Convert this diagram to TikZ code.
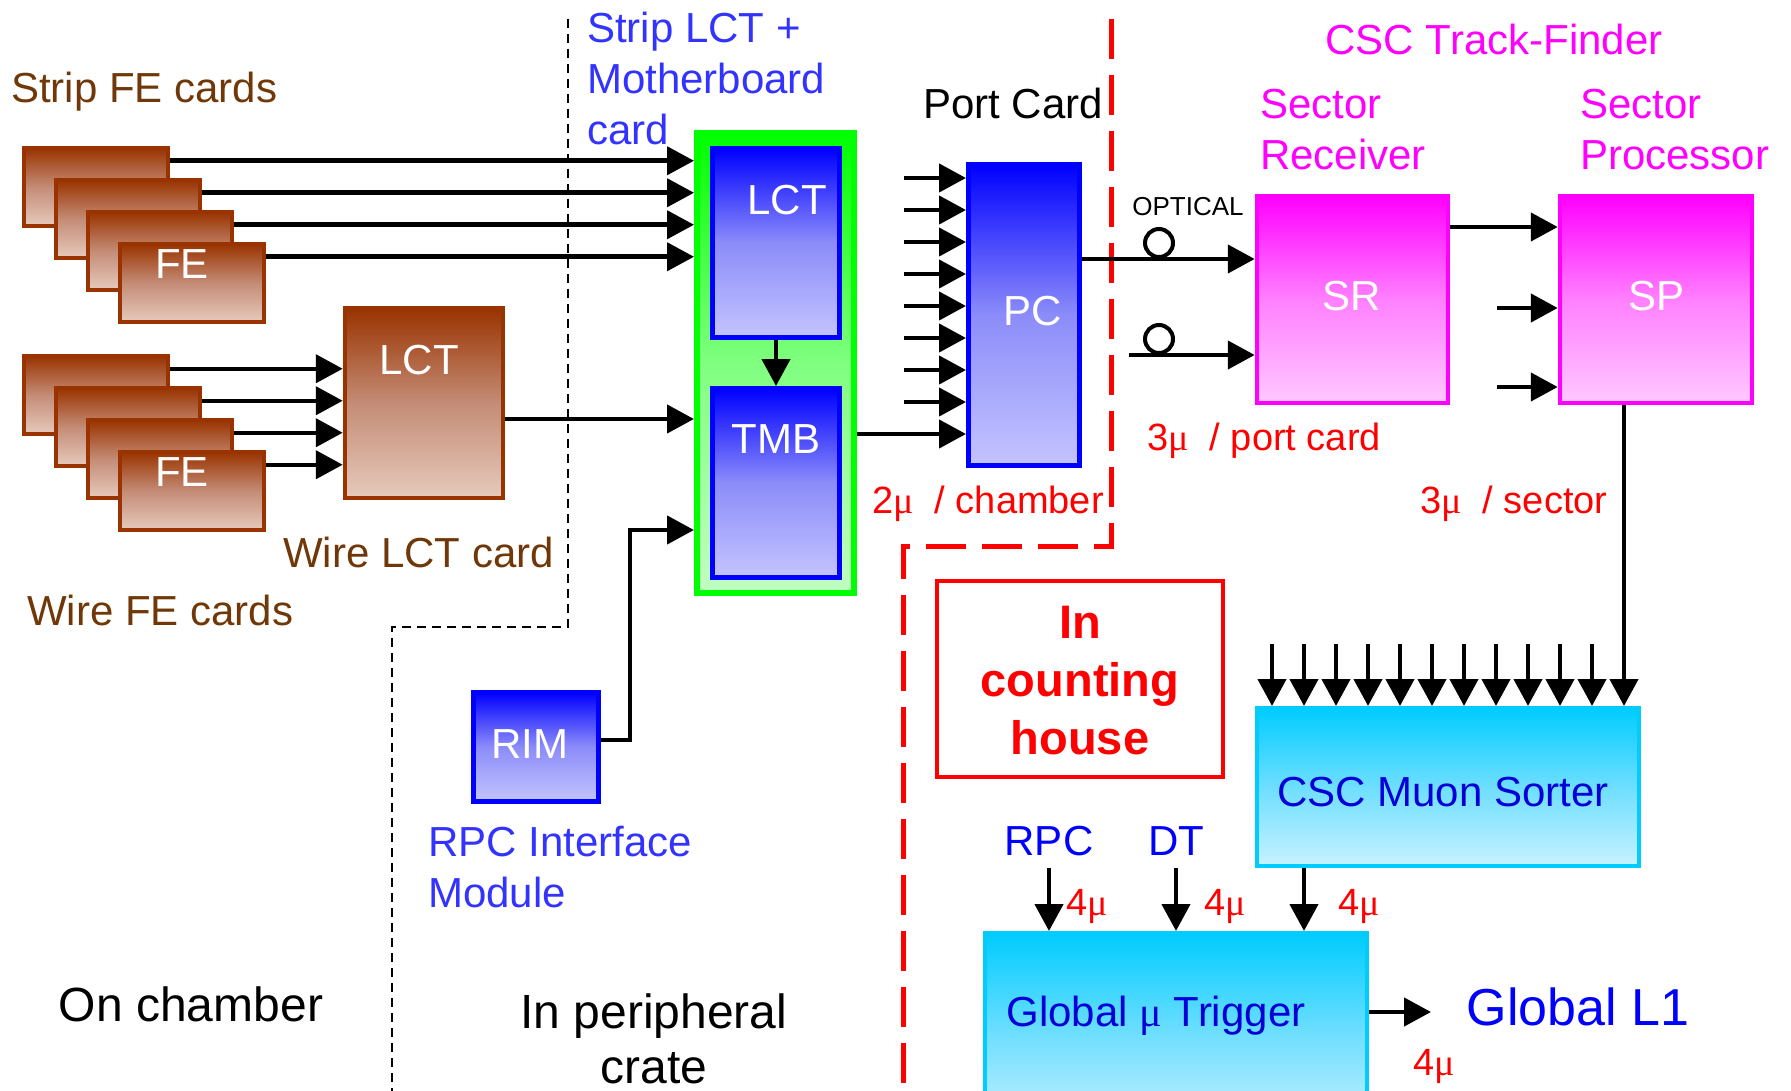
\documentclass[tikz,border=0pt]{standalone}
\usepackage{fontspec}
\setmainfont{Liberation Sans}
\newfontfamily\greekserif{Liberation Serif}
\newcommand{\muu}{{\greekserif μ}}
\usetikzlibrary{arrows.meta,calc}

\definecolor{febrown}{RGB}{153,51,0}
\definecolor{femid}{RGB}{196,140,118}
\definecolor{felight}{RGB}{230,202,188}
\definecolor{txtbrown}{RGB}{112,56,8}
\definecolor{lblue}{RGB}{51,51,255}
\definecolor{boxblue}{RGB}{0,0,255}
\definecolor{midblue}{RGB}{140,140,250}
\definecolor{lavender}{RGB}{196,196,255}
\definecolor{mag}{RGB}{255,0,255}
\definecolor{pinkmid}{RGB}{255,128,255}
\definecolor{pinklight}{RGB}{255,200,255}
\definecolor{cyanb}{RGB}{0,204,255}
\definecolor{cyanmid}{RGB}{110,222,255}
\definecolor{cyanlight}{RGB}{200,242,255}
\definecolor{grn}{RGB}{0,255,0}
\definecolor{grnmid}{RGB}{128,255,128}
\definecolor{grnlight}{RGB}{192,255,192}
\definecolor{darkblue}{RGB}{0,0,215}

\tikzset{
  box/.style={rectangle, inner sep=0pt, draw},
  fecard/.style={box, draw=febrown, line width=4.5pt, top color=febrown, bottom color=felight, middle color=femid, minimum width=144, minimum height=78},
  bluebox/.style={box, draw=boxblue, line width=5pt, top color=boxblue, bottom color=lavender, middle color=midblue},
  magbox/.style={box, draw=mag, line width=4.5pt, top color=mag, bottom color=pinklight, middle color=pinkmid},
  cyanbox/.style={box, draw=cyanb, line width=4pt, top color=cyanb, bottom color=cyanlight, middle color=cyanmid},
  grnbox/.style={box, draw=grn, line width=6pt, top color=grn, bottom color=grnlight, middle color=grnmid},
  lbl/.style={text=white, inner sep=0pt, font=\fontsize{42}{50}\selectfont},
  arr/.style={line width=4.5pt, -{Triangle[length=27pt,width=28pt]}},
  txt/.style={inner sep=0pt, anchor=west, font=\fontsize{42}{51}\selectfont, text height=30pt, text depth=0pt},
  mtxt/.style={inner sep=0pt, anchor=north west, align=left, font=\fontsize{42}{51}\selectfont},
  redtxt/.style={inner sep=0pt, anchor=west, text=red, font=\fontsize{38}{46}\selectfont, text height=27pt, text depth=0pt}
}

\begin{document}
\begin{tikzpicture}[x=1pt,y=-1pt]
\clip (0,0) rectangle (1791,1091);
\fill[white] (0,0) rectangle (1791,1091);

% region boundaries
\draw[line width=1.8pt, dash pattern=on 9pt off 6pt] (568,19) -- (568,627) -- (392,627) -- (392,1091);
\draw[red, line width=5pt, dash pattern=on 40pt off 16pt] (1111,19) -- (1111,546) -- (903,546) -- (903,1091);

% strip and wire front-end cards
\foreach \i/\cx/\cy in {1/96/187, 2/128/219, 3/160/251, 4/192/283}
  \node[fecard] (s\i) at (\cx,\cy) {};
\node[lbl] (sfe) at (182,264) {FE};
\foreach \i/\cx/\cy in {1/96/395, 2/128/427, 3/160/459, 4/192/491}
  \node[fecard] (w\i) at (\cx,\cy) {};
\node[lbl] (wfe) at (182,472) {FE};

% wire LCT card
\node[fecard, minimum width=158, minimum height=190] (wlct) at (424,403) {};
\node[lbl] (wlctl) at (419,360) {LCT};

% strip LCT + motherboard
\node[grnbox, minimum width=157, minimum height=460] (mb) at (775.5,363) {};
\node[bluebox, minimum width=127, minimum height=189] (slct) at (776,243) {};
\node[lbl] (slctl) at (787,200) {LCT};
\node[bluebox, minimum width=127, minimum height=189] (tmb) at (776,483) {};
\node[lbl] (tmbl) at (776,439) {TMB};

% RPC interface module
\node[bluebox, minimum width=125, minimum height=109] (rim) at (536,747) {};
\node[lbl] (riml) at (530,744) {RIM};

% port card
\node[bluebox, minimum width=111, minimum height=301] (pc) at (1024,315) {};
\node[lbl] (pcl) at (1033,311) {PC};

% track-finder
\node[magbox, minimum width=191, minimum height=207] (sr) at (1352.5,299.5) {};
\node[lbl] (srl) at (1352,296) {SR};
\node[magbox, minimum width=192, minimum height=207] (sp) at (1656,299.5) {};
\node[lbl] (spl) at (1656,296) {SP};

% counting-house boxes
\node[cyanbox, minimum width=382, minimum height=158] (ms) at (1448,787) {};
\node[cyanbox, minimum width=382, minimum height=200] (gmt) at (1176,1033) {};
\node[draw=red, line width=4.5pt, minimum width=286, minimum height=196, inner sep=0pt] (ch) at (1080,679) {};
\node[align=center, text=red, font=\bfseries\fontsize{47}{58}\selectfont, inner sep=0pt] (cht) at (1080,681) {In\\counting\\house};

% strip FE -> motherboard
\foreach \i in {1,...,4} {
  \coordinate (so\i) at ($(s\i.north east)+(0,15)$);
  \draw[arr] (so\i) -- (so\i -| mb.west);
}
% wire FE -> wire LCT
\foreach \i in {1,...,4} {
  \coordinate (wo\i) at ($(w\i.north east)+(0,15)$);
  \draw[arr] (wo\i) -- (wo\i -| wlct.west);
}
\coordinate (wlo) at ($(wlct.east)+(0,16)$);
\draw[arr] (wlo) -- (wlo -| mb.west);
\draw[arr] (slct.south) -- (tmb.north);
\coordinate (rimo) at ($(rim.east)+(0,-7)$);
\coordinate (rimup) at (630,530);
\draw[arr] (rimo) -| (rimup) -- (rimup -| mb.west);

% inputs of the port card
\foreach \k in {0,...,7} {
  \coordinate (pi\k) at (904,{178+32*\k});
  \draw[arr] (pi\k) -- (pi\k -| pc.west);
}
\coordinate (tmbo) at ($(mb.east)+(0,71)$);
\draw[arr] (tmbo) -- (tmbo -| pc.west);

% optical links
\coordinate (pco) at ($(pc.east)+(0,-56)$);
\draw[arr] (pco) -- (pco -| sr.west);
\coordinate (opt2) at (1129,355);
\draw[arr] (opt2) -- (opt2 -| sr.west);
\node[circle, draw, line width=4pt, minimum size=28, inner sep=0pt] (c1) at (1159,243) {};
\node[circle, draw, line width=4pt, minimum size=28, inner sep=0pt] (c2) at (1159,339) {};

% sector receiver -> sector processor
\coordinate (sro) at ($(sr.east)+(0,-72.5)$);
\draw[arr] (sro) -- (sro -| sp.west);
\coordinate (spi1) at (1497,308);
\coordinate (spi2) at (1497,387);
\draw[arr] (spi1) -- (spi1 -| sp.west);
\draw[arr] (spi2) -- (spi2 -| sp.west);

% sector processors -> muon sorter
\coordinate (spo) at ($(sp.south)+(-32,0)$);
\draw[arr] (spo) -- (spo |- ms.north);
\foreach \k in {0,...,10} {
  \coordinate (mi\k) at ({1272+32*\k},644);
  \draw[arr] (mi\k) -- (mi\k |- ms.north);
}

% global muon trigger inputs and output
\coordinate (mso) at ($(ms.south)+(-144,0)$);
\draw[arr] (mso) -- (mso |- gmt.north);
\coordinate (rpcin) at (1049,868);
\coordinate (dtin) at (1176,868);
\draw[arr] (rpcin) -- (rpcin |- gmt.north);
\draw[arr] (dtin) -- (dtin |- gmt.north);
\coordinate (gmto) at ($(gmt.east)+(0,-21)$);
\coordinate (l1in) at (1431,1012);
\draw[arr] (gmto) -- (l1in);

% labels
\node[txt, text=txtbrown] (tsfe) at (11,88) {Strip FE cards};
\node[txt, text=txtbrown] (twlct) at (283,552) {Wire LCT card};
\node[txt, text=txtbrown] (twfe) at (27,610) {Wire FE cards};
\node[mtxt, text=lblue] (tmbc) at (587,12) {Strip LCT +\\Motherboard\\card};
\node[mtxt, text=lblue] (trim) at (428,826) {RPC Interface\\Module};
\node[txt] (tpc) at (923,104) {Port Card};
\node[txt, anchor=center, text=mag] (tcsc) at (1494,40) {CSC Track-Finder};
\node[mtxt, text=mag] (tsr) at (1260,89) {Sector\\Receiver};
\node[mtxt, text=mag] (tsp) at (1580,89) {Sector\\Processor};
\node[redtxt] (r1) at (1147,437) {3\muu\ \ / port card};
\node[redtxt] (r2) at (1420,500) {3\muu\ \ / sector};
\node[redtxt] (r3) at (872,500) {2\muu\ \ / chamber};
\node[inner sep=0pt, font=\fontsize{26}{30}\selectfont] (topt) at (1188,207) {OPTICAL};
\node[txt, anchor=center, text=darkblue] (tms) at (1443,791) {CSC Muon Sorter};
\node[txt, anchor=center, text=blue] (trpc) at (1049,840) {RPC};
\node[txt, anchor=center, text=blue] (tdt) at (1176,840) {DT};
\node[redtxt, anchor=center] (m1) at (1087,902) {4\muu};
\node[redtxt, anchor=center] (m2) at (1225,902) {4\muu};
\node[redtxt, anchor=center] (m3) at (1359,902) {4\muu};
\node[redtxt, anchor=center] (m4) at (1434,1062) {4\muu};
\node[txt, anchor=center, text=darkblue] (tgmt) at (1156,1011) {Global \muu\ Trigger};
\node[inner sep=0pt, text=blue, font=\fontsize{52}{60}\selectfont, text height=37pt, text depth=0pt] (tl1) at (1578,1007) {Global L1};
\node[inner sep=0pt, font=\fontsize{48}{57}\selectfont, text height=34pt, text depth=0pt] (ton) at (191,1004) {On chamber};
\node[inner sep=0pt, align=center, anchor=north, font=\fontsize{48}{55}\selectfont] (tper) at (654,994) {In peripheral\\crate};
\end{tikzpicture}
\end{document}
